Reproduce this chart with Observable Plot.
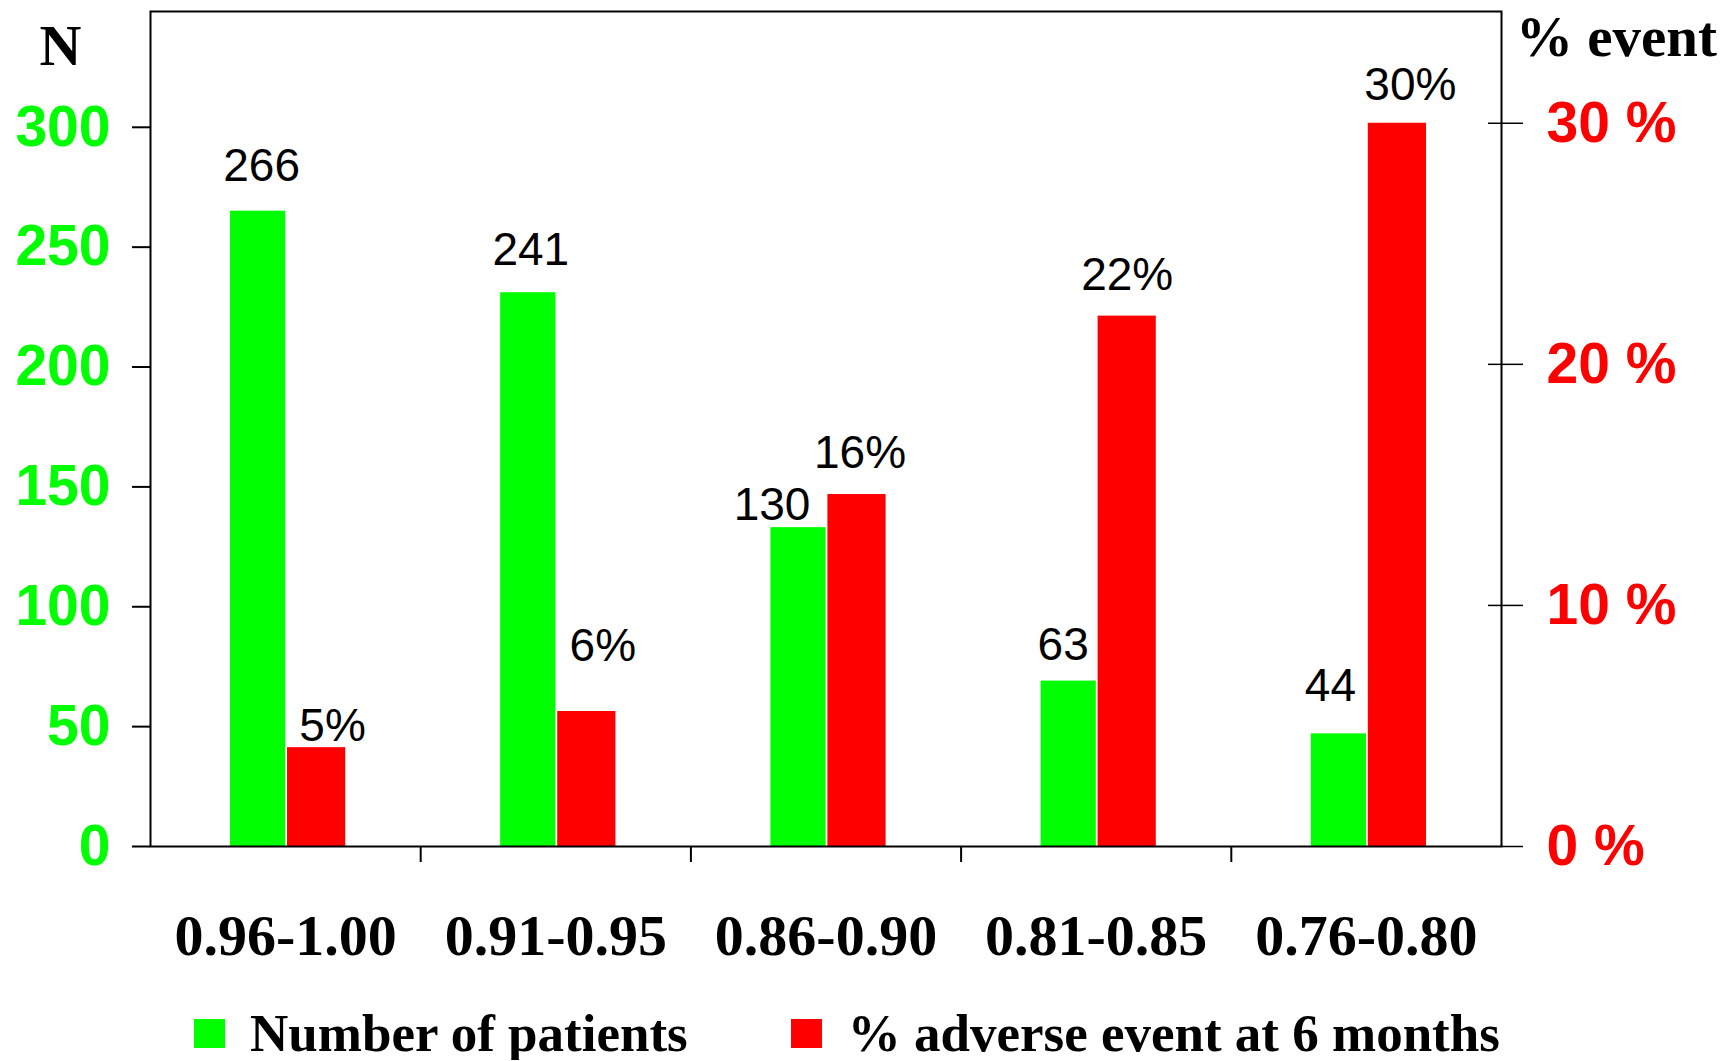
<!DOCTYPE html>
<html>
<head>
<meta charset="utf-8">
<script src="https://cdn.jsdelivr.net/npm/d3@7"></script>
<script src="https://cdn.jsdelivr.net/npm/@observablehq/plot@0.6"></script>
<style>
  html, body { margin: 0; padding: 0; background: #fff; }
  #chart svg { display: block; }
  .legend { display: flex; align-items: center; height: 53px; padding-top: 27px;
    font-family: "Liberation Serif", "Times New Roman", serif; font-weight: bold; font-size: 53px;
    line-height: 1; color: #000; white-space: nowrap; }
  .sw { display: inline-block; width: 31px; height: 29px; flex: none; }
</style>
</head>
<body>
<div id="chart"></div>
<div class="legend">
  <span class="sw" style="background:#00ff00;margin-left:194px"></span>
  <span style="margin-left:25px">Number of patients</span>
  <span class="sw" style="background:#ff0000;margin-left:103px"></span>
  <span style="margin-left:26px">% adverse event at 6 months</span>
</div>
<script>
// ---- data ----
const categories = ["0.96-1.00", "0.91-0.95", "0.86-0.90", "0.81-0.85", "0.76-0.80"];
const patients = [265, 231, 133, 69, 47];            // green bar heights as drawn
const patientLabels = ["266", "241", "130", "63", "44"];
const eventPct = [4.1, 5.6, 14.6, 22.0, 30.0];       // red bar heights as drawn (%)
const eventLabels = ["5%", "6%", "16%", "22%", "30%"];
const nTicks = [0, 50, 100, 150, 200, 250, 300];
const pctTicks = [0, 10, 20, 30];

// label nudges (px, styling only) relative to the band centre and the bar top
const nLabelDx = [-24, -25, -54, -33, -36];
const nLabelDy = [-30, -28, -8, -21, -33];
const pLabelDx = [47, 47, 34, 31, 44];
const pLabelDy = [-7, -50, -27, -26, -23];

// ---- build table ----
const K = 10.056; // one percent expressed in N units (right axis vs left axis)
const rows = categories.map((c, i) => ({
  cat: c, n: patients[i], nLabel: patientLabels[i],
  pct: eventPct[i], pLabel: eventLabels[i]
}));

const SANS = "Liberation Sans, Arial, Helvetica, sans-serif";
const SERIF = "Liberation Serif, Times New Roman, serif";
const GREEN = "#00ff00", RED = "#ff0000";

const nLabelMarks = rows.map((r, i) => Plot.text([r], {
  x: "cat", y: "n", text: "nLabel", dx: nLabelDx[i], dy: nLabelDy[i], lineAnchor: "bottom",
  fontSize: 46, fontFamily: SANS, fill: "#000" }));
const pLabelMarks = rows.map((r, i) => Plot.text([r], {
  x: "cat", y: d => d.pct * K, text: "pLabel", dx: pLabelDx[i], dy: pLabelDy[i], lineAnchor: "bottom",
  fontSize: 46, fontFamily: SANS, fill: "#000" }));

const chart = Plot.plot({
  width: 1727,
  height: 980,
  marginLeft: 150,
  marginRight: 226,
  marginTop: 11,
  marginBottom: 134,
  style: { background: "#fff", color: "#000", overflow: "visible" },
  x: { type: "band", domain: categories, padding: 0, round: false },
  y: { domain: [0, 348.3] },
  marks: [
    Plot.barY(rows, { x: "cat", y: "n", fill: GREEN, insetLeft: 80, insetRight: 135 }),
    Plot.barY(rows, { x: "cat", y: d => d.pct * K, fill: RED, insetLeft: 137, insetRight: 75 }),
    ...nLabelMarks,
    ...pLabelMarks,
    Plot.frame({ stroke: "#000", strokeWidth: 2 }),
    // left axis (N)
    Plot.axisY({ anchor: "left", ticks: nTicks, tickFormat: d => String(d), tickSize: 18, tickPadding: 22,
      fill: GREEN, stroke: "#000", strokeWidth: 2, fontSize: 57, fontWeight: "bold", fontFamily: SANS, label: null }),
    // right axis (% event)
    Plot.axisY({ anchor: "right", ticks: pctTicks.map(p => p * K), tickFormat: d => `${Math.round(d / K)} %`,
      tickSize: 21, tickPadding: 24, fill: RED, stroke: "#000", strokeWidth: 1.5,
      fontSize: 57, fontWeight: "bold", fontFamily: SANS, label: null }),
    Plot.axisY({ anchor: "right", ticks: pctTicks.slice(1).map(p => p * K), tickFormat: () => "",
      tickSize: -14, stroke: "#000", strokeWidth: 1.5, label: null }),
    // x category labels
    Plot.axisX({ anchor: "bottom", tickSize: 0, tickPadding: 67, fill: "#000",
      fontSize: 58, fontWeight: "bold", fontFamily: SERIF, label: null }),
    // x separator ticks between groups
    Plot.axisX({ anchor: "bottom", ticks: categories.slice(1), tickFormat: () => "", tickSize: 16,
      dx: -135.1, stroke: "#000", strokeWidth: 2, label: null }),
    // axis titles
    Plot.text(["N"], { frameAnchor: "top-left", text: d => d, dx: -90, dy: 12, textAnchor: "middle",
      fontSize: 58, fontWeight: "bold", fontFamily: SERIF, fill: "#000" }),
    Plot.text(["% event"], { frameAnchor: "top-right", text: d => d, dx: 115, dy: 4, textAnchor: "middle",
      fontSize: 57, fontWeight: "bold", fontFamily: SERIF, fill: "#000" })
  ]
});
document.getElementById("chart").appendChild(chart);
</script>
</body>
</html>
